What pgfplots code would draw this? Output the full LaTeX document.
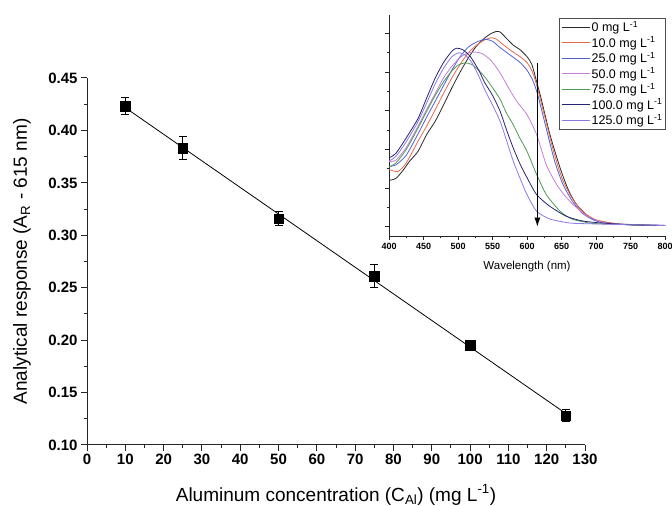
\documentclass[border=0pt]{standalone}
\usepackage{fontspec}
\setmainfont{Liberation Sans}
\usepackage{pgfplots}
\pgfplotsset{compat=1.18}
\usetikzlibrary{arrows.meta}
\definecolor{c0}{RGB}{40,40,40}
\definecolor{c10}{RGB}{233,105,74}
\definecolor{c25}{RGB}{80,96,216}
\definecolor{c50}{RGB}{198,128,216}
\definecolor{c75}{RGB}{78,155,80}
\definecolor{c100}{RGB}{37,37,111}
\definecolor{c125}{RGB}{138,122,230}
\begin{document}
\begin{tikzpicture}[x=1bp,y=1bp]
\useasboundingbox (0,0) rectangle (672,506);
\begin{axis}[
  at={(87bp,61bp)}, anchor=south west, scale only axis,
  width=498bp, height=367bp,
  xmin=0, xmax=130, ymin=0.10, ymax=0.45,
  axis x line*=bottom, axis y line*=left,
  axis line style={line width=1bp, black!85},
  xtick={0,10,...,130}, minor x tick num=1,
  ytick={0.10,0.15,0.20,0.25,0.30,0.35,0.40,0.45}, minor y tick num=1,
  tick align=outside, major tick length=6bp, minor tick length=3.5bp,
  tick style={line width=1bp, black!85},
  /pgf/number format/assume math mode=true,
  ticklabel style={font=\fontsize{15bp}{18bp}\selectfont\bfseries},
  yticklabel style={/pgf/number format/.cd, fixed, fixed zerofill, precision=2},
  xlabel={Aluminum concentration (C\textsubscript{Al}) (mg L\textsuperscript{-1})},
  ylabel={Analytical response (A\textsubscript{R} - 615 nm)},
  label style={font=\fontsize{19bp}{22bp}\selectfont},
  xlabel style={at={(axis description cs:0.5,-0.136)}, anchor=center},
  ylabel style={at={(axis description cs:-0.1305,0.5)}, anchor=center},
]
\addplot[black, line width=0.8bp] coordinates {(10,0.4217) (125,0.1300)};
\addplot[only marks, mark=square*, mark size=4.8bp, black,
  error bars/.cd, y dir=both, y explicit,
  error bar style={line width=0.9bp, black},
  error mark options={rotate=90, mark size=4bp, line width=0.9bp}]
  coordinates {
  (10,0.423) +- (0,0.008)
  (25,0.383) +- (0,0.011)
  (50,0.316) +- (0,0.007)
  (75,0.261) +- (0,0.011)
  (100,0.195) +- (0,0.005)
  (125,0.128) +- (0,0.006)
};
\end{axis}
\begin{axis}[
  at={(389bp,270bp)}, anchor=south west, scale only axis,
  width=276bp, height=221bp,
  xmin=400, xmax=800, ymin=-0.024, ymax=0.548,
  axis x line*=bottom, axis y line*=left,
  axis line style={line width=0.9bp, black!85},
  xtick={400,450,...,800}, minor x tick num=1,
  ytick={0,0.1,0.2,0.3,0.4,0.5}, minor y tick num=1, yticklabels={},
  tick align=outside, major tick length=4bp, minor tick length=2.5bp,
  tick style={line width=0.8bp, black!85},
  /pgf/number format/assume math mode=true,
  xticklabel style={font=\fontsize{9bp}{11bp}\selectfont\bfseries, /pgf/number format/1000 sep={}},
  xlabel={Wavelength (nm)},
  xlabel style={font=\fontsize{11.5bp}{14bp}\selectfont, at={(axis description cs:0.5,-0.136)}, anchor=center},
  legend style={at={(axis description cs:1.003,0.986)}, anchor=north east,
    draw=black!70, line width=0.6bp, fill=white,
    font=\fontsize{12.5bp}{14bp}\selectfont, row sep=0.4bp, inner sep=1.5bp,
    nodes={inner sep=1.6bp}},
  legend cell align=left,
  legend image code/.code={\draw[#1, draw=.] (0bp,0bp) -- (28bp,0bp);},
  every axis plot/.append style={line width=0.8bp, smooth, tension=0.4},
]
\addplot[c0] coordinates {
(400,0.120) (410,0.125) (420,0.145) (430,0.170) (442,0.195) (455,0.24) (467,0.273) (479,0.315) (491,0.359) (503,0.400) (515,0.437) (527,0.468) (539,0.489) (548,0.500) (555,0.505) (561,0.504) (570,0.488) (580,0.470) (590,0.458) (600,0.440) (607,0.420) (614,0.375) (620,0.335) (633,0.240) (648,0.152) (660,0.095) (672,0.057) (690,0.025) (706,0.013) (730,0.007) (760,0.004) (800,0.003)};
\addlegendentry{0 mg L\textsuperscript{-1}}
\addplot[c10] coordinates {
(400,0.148) (413,0.143) (425,0.165) (442,0.221) (455,0.262) (467,0.303) (479,0.345) (491,0.385) (503,0.420) (515,0.450) (527,0.470) (539,0.484) (549,0.489) (556,0.485) (565,0.472) (575,0.458) (590,0.440) (600,0.425) (608,0.400) (615,0.360) (625,0.290) (640,0.185) (652,0.120) (665,0.075) (680,0.040) (700,0.018) (730,0.008) (760,0.005) (800,0.003)};
\addlegendentry{10.0 mg L\textsuperscript{-1}}
\addplot[c25] coordinates {
(400,0.156) (410,0.160) (425,0.185) (442,0.240) (455,0.285) (467,0.325) (479,0.365) (491,0.405) (503,0.440) (515,0.465) (527,0.478) (540,0.485) (550,0.480) (560,0.465) (575,0.445) (590,0.425) (600,0.405) (608,0.380) (615,0.345) (625,0.275) (640,0.170) (652,0.110) (665,0.068) (680,0.035) (700,0.015) (730,0.007) (800,0.003)};
\addlegendentry{25.0 mg L\textsuperscript{-1}}
\addplot[c50] coordinates {
(400,0.169) (410,0.172) (425,0.205) (442,0.260) (455,0.305) (467,0.345) (479,0.385) (491,0.415) (503,0.438) (515,0.450) (525,0.452) (535,0.448) (548,0.430) (561,0.398) (573,0.360) (585,0.325) (600,0.290) (614,0.238) (628,0.160) (643,0.109) (655,0.080) (667,0.057) (685,0.030) (706,0.013) (730,0.007) (800,0.004)};
\addlegendentry{50.0 mg L\textsuperscript{-1}}
\addplot[c75] coordinates {
(400,0.155) (410,0.165) (425,0.200) (442,0.255) (455,0.300) (467,0.340) (479,0.375) (491,0.403) (500,0.418) (510,0.424) (520,0.420) (530,0.405) (540,0.385) (550,0.360) (561,0.330) (570,0.295) (580,0.264) (590,0.228) (600,0.195) (614,0.135) (628,0.083) (648,0.040) (665,0.020) (681,0.013) (700,0.008) (800,0.003)};
\addlegendentry{75.0 mg L\textsuperscript{-1}}
\addplot[c100] coordinates {
(400,0.178) (410,0.190) (425,0.230) (442,0.280) (455,0.335) (467,0.385) (479,0.425) (491,0.454) (498,0.462) (507,0.458) (518,0.440) (530,0.405) (539,0.372) (550,0.340) (561,0.299) (570,0.252) (580,0.204) (590,0.162) (600,0.127) (614,0.083) (633,0.053) (657,0.027) (680,0.015) (706,0.010) (750,0.005) (800,0.003)};
\addlegendentry{100.0 mg L\textsuperscript{-1}}
\addplot[c125] coordinates {
(400,0.170) (410,0.182) (425,0.220) (442,0.272) (455,0.322) (467,0.370) (479,0.410) (491,0.440) (501,0.450) (510,0.445) (520,0.425) (530,0.390) (540,0.350) (550,0.315) (561,0.273) (570,0.225) (580,0.170) (590,0.125) (600,0.083) (614,0.040) (633,0.020) (660,0.010) (681,0.008) (800,0.003)};
\addlegendentry{125.0 mg L\textsuperscript{-1}}
\draw[line width=1.1bp, -{Latex[length=9bp,width=6bp]}] (axis cs:615,0.425) -- (axis cs:615,0.0);
\end{axis}
\end{tikzpicture}
\end{document}
